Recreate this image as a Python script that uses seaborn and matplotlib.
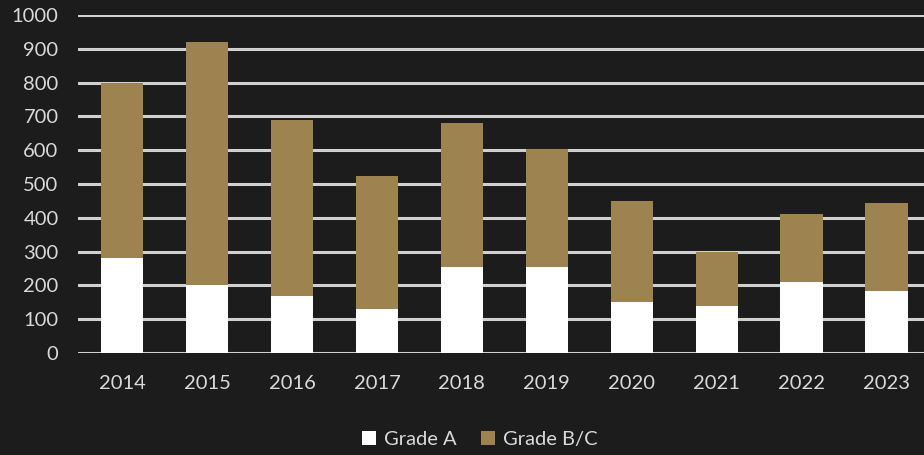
import matplotlib
matplotlib.use("Agg")
import matplotlib.pyplot as plt
import seaborn as sns
import pandas as pd

# values
years = ["2014", "2015", "2016", "2017", "2018", "2019", "2020", "2021", "2022", "2023"]
grade_a = [280, 200, 170, 130, 255, 255, 150, 140, 210, 185]
grade_bc = [520, 720, 520, 395, 425, 350, 300, 160, 200, 260]

bg = "#1c1c1c"
tan = "#9c8350"
txt = "#d9d9d9"

df = pd.DataFrame({"year": years, "a": grade_a, "bc": grade_bc})
df["total"] = df["a"] + df["bc"]

sns.set_theme(style="dark")
plt.rcParams["font.family"] = ["Lato", "DejaVu Sans"]

fig = plt.figure(figsize=(9.24, 4.55), dpi=100, facecolor=bg)
ax = fig.add_axes([0.0844, 0.224, 0.9156, 0.743])
ax.set_facecolor(bg)

# stacked bars: full total in tan, then Grade A on top in white
sns.barplot(data=df, x="year", y="total", color=tan, width=0.5, saturation=1,
            linewidth=0, ax=ax, label="Grade B/C", zorder=3)
sns.barplot(data=df, x="year", y="a", color="white", width=0.5, saturation=1,
            linewidth=0, ax=ax, label="Grade A", zorder=3)

ax.set_ylim(0, 1000)
ax.set_xlim(-0.52, 9.44)
ax.set_yticks(range(0, 1001, 100))
ax.yaxis.grid(True, color="#d0d0d0", linewidth=2.2, zorder=0)
ax.xaxis.grid(False)
ax.set_xlabel("")
ax.set_ylabel("")
for s in ax.spines.values():
    s.set_visible(False)
ax.tick_params(axis="both", colors=txt, labelsize=14.5, length=0)
ax.tick_params(axis="y", pad=14)
ax.tick_params(axis="x", pad=16)

handles, labels = ax.get_legend_handles_labels()
order = [labels.index("Grade A"), labels.index("Grade B/C")]
leg = ax.legend([handles[i] for i in order], [labels[i] for i in order],
                loc="center", bbox_to_anchor=(0.475, -0.255), ncol=2, frameon=False,
                fontsize=14.5, handlelength=0.7, handleheight=0.7, handletextpad=0.4,
                columnspacing=1.2)
for t in leg.get_texts():
    t.set_color(txt)

fig.savefig("out.png", dpi=100, facecolor=bg)
